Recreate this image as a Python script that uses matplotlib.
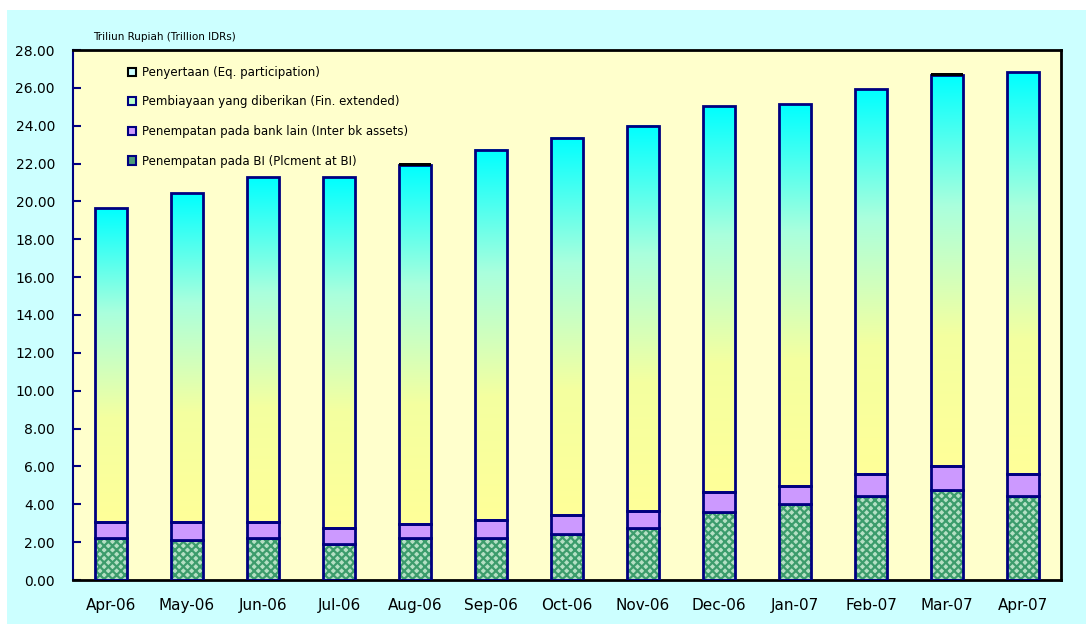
import numpy as np
import matplotlib
matplotlib.use("Agg")
import matplotlib.pyplot as plt
from matplotlib.patches import Patch, Rectangle
from matplotlib.colors import LinearSegmentedColormap

# data (trillion IDR)
months = ['Apr-06', 'May-06', 'Jun-06', 'Jul-06', 'Aug-06', 'Sep-06', 'Oct-06',
          'Nov-06', 'Dec-06', 'Jan-07', 'Feb-07', 'Mar-07', 'Apr-07']
plc_bi = [2.20, 2.11, 2.20, 1.88, 2.20, 2.22, 2.43, 2.75, 3.57, 4.01, 4.44, 4.75, 4.44]
inter_bk = [0.88, 0.97, 0.88, 0.88, 0.78, 0.95, 1.00, 0.89, 1.10, 0.97, 1.18, 1.29, 1.18]
fin_ext = [16.57, 17.36, 18.21, 18.53, 18.94, 19.55, 19.92, 20.34, 20.37, 20.16, 20.32, 20.64, 21.22]
equity = [0.0, 0.0, 0.0, 0.0, 0.17, 0.0, 0.0, 0.0, 0.0, 0.0, 0.0, 0.17, 0.0]

labels = ['Penyertaan (Eq. participation)',
          'Pembiayaan yang diberikan (Fin. extended)',
          'Penempatan pada bank lain (Inter bk assets)',
          'Penempatan pada BI (Plcment at BI)']

navy = '#000080'
plt.rcParams['font.family'] = 'DejaVu Sans'
plt.rcParams['hatch.linewidth'] = 1.6

fig = plt.figure(figsize=(10.86, 6.26), dpi=100)
bg = Rectangle((7/1086, 0.003), 1, 1 - 10/626 - 0.003, transform=fig.transFigure,
               facecolor='#CCFFFF', edgecolor='none', zorder=-5)
fig.add_artist(bg)
ax = fig.add_axes([73/1086, 46/626, 988/1086, 530/626])
ax.set_facecolor('#FFFFCC')

x = np.arange(len(months))
w = 0.42
b1 = np.array(plc_bi)
b2 = b1 + np.array(inter_bk)
b3 = b2 + np.array(fin_ext)

# placement at BI: hatched green
ax.bar(x, plc_bi, w, color='#B4E0C4', edgecolor='#3C9C6C', hatch='xxxx', linewidth=0, zorder=2)
ax.bar(x, plc_bi, w, fill=False, edgecolor=navy, linewidth=2, zorder=4)
# inter bank
ax.bar(x, inter_bk, w, bottom=b1, color='#CC99FF', edgecolor=navy, linewidth=2, zorder=4)

# financing extended: gradient yellow -> cyan
cmap = LinearSegmentedColormap.from_list('yc', ['#FFFF99', '#F4FFA0', '#AAFFDD', '#00FFFF'])
grad = np.linspace(1, 0, 256).reshape(-1, 1)
for i in x:
    ax.imshow(grad, extent=[i - w/2, i + w/2, b2[i], b3[i]], aspect='auto', cmap=cmap,
              zorder=3, interpolation='bilinear')
ax.bar(x, fin_ext, w, bottom=b2, fill=False, edgecolor=navy, linewidth=2, zorder=4)

# equity participation (thin black cap)
ax.bar(x, equity, w + 0.01, bottom=b3 - 0.05, color='black', edgecolor='none', linewidth=0, zorder=5)

ax.set_xlim(-0.5, len(months) - 0.5)
ax.set_ylim(0, 28)
ax.set_yticks(np.arange(0, 28.1, 2))
ax.set_yticklabels(['%.2f' % v for v in np.arange(0, 28.1, 2)], fontsize=10)
ax.set_xticks(x)
ax.set_xticklabels(months, fontsize=11)
ax.tick_params(axis='x', length=0, pad=13)
ax.tick_params(axis='y', direction='in', length=6, width=1.5, color=navy, pad=13)

for s in ['top', 'right', 'bottom']:
    ax.spines[s].set_color('black')
    ax.spines[s].set_linewidth(2)
ax.spines['left'].set_color(navy)
ax.spines['left'].set_linewidth(1.5)

fig.text(93/1086, 1 - 37/626, 'Triliun Rupiah (Trillion IDRs)', fontsize=7.5, va='center')

handles = [Patch(facecolor='#CCFFFF', edgecolor='black', linewidth=1.5),
           Patch(facecolor='#BBFFCC', edgecolor=navy, linewidth=1.5),
           Patch(facecolor='#CC99FF', edgecolor=navy, linewidth=1.5),
           Patch(facecolor='#4A9A7A', edgecolor=navy, linewidth=1.5)]
ax.legend(handles, labels, loc='upper left', bbox_to_anchor=(0.045, 0.99), frameon=False,
          fontsize=8.5, handlelength=0.7, handleheight=0.7, handletextpad=0.5, labelspacing=1.4)

fig.savefig('out.png', dpi=100)
